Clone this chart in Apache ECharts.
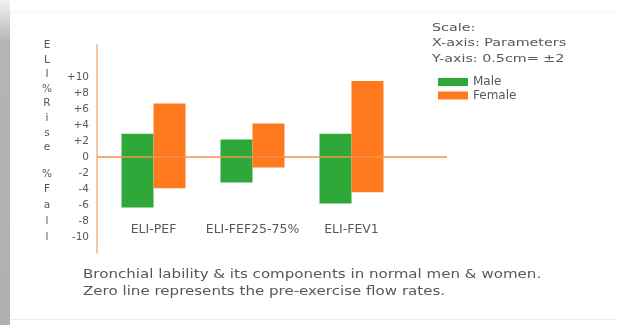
<!DOCTYPE html>
<html>
<head>
<meta charset="utf-8">
<script src="https://cdn.jsdelivr.net/npm/echarts@6/dist/echarts.min.js"></script>
<style>
  html, body { margin: 0; padding: 0; background: #ffffff; }
  #chart { width: 617px; height: 325px; }
</style>
</head>
<body>
<div id="chart"></div>
<script>
// Parameters measured (x-axis categories)
const categories = ['ELI-PEF', 'ELI-FEF25-75%', 'ELI-FEV1'];

// Each bar floats from its % fall (below zero) to its % rise (above zero)
const maleRise = [2.9, 2.2, 2.9];
const maleFall = [-6.3, -3.2, -5.8];
const femaleRise = [6.7, 4.2, 9.5];
const femaleFall = [-3.9, -1.3, -4.4];

// Y-axis tick labels (signed)
const yTickValues = [10, 8, 6, 4, 2, 0, -2, -4, -6, -8, -10];
const yTickLabels = ['+10', '+8', '+6', '+4', '+2', '0', '-2', '-4', '-6', '-8', '-10'];

const legendNames = ['Male', 'Female'];
const scaleNote = ['Scale:', 'X-axis: Parameters', 'Y-axis: 0.5cm= \u00b12'];
const caption = [
  'Bronchial lability & its components in normal men & women.',
  'Zero line represents the pre-exercise flow rates.'
];

const GREEN = '#2fa83a';
const ORANGE = '#ff7a1e';
const TEXT = '#585858';
const FONT = '"DejaVu Sans", Verdana, sans-serif';

const Y_MIN = -12, Y_MAX = 14;
const plotTop = 45, plotHeight = 208;

const chart = echarts.init(document.getElementById('chart'), null, { renderer: 'canvas' });

function tickLabel(v) {
  const i = yTickValues.indexOf(v);
  return i >= 0 ? yTickLabels[i] : '';
}

function barSeries(name, values, stack, color) {
  return {
    name: name,
    type: 'bar',
    xAxisIndex: 1,
    yAxisIndex: 1,
    stack: stack,
    barWidth: 32,
    barGap: '0%',
    itemStyle: { color: color },
    emphasis: { disabled: true },
    data: values
  };
}

chart.setOption({
  animation: false,
  backgroundColor: '#ffffff',
  textStyle: { fontFamily: FONT },
  grid: [
    // axes frame: y axis with tick labels and the zero line
    { left: 97, width: 350, top: plotTop, height: plotHeight },
    // bars
    { left: 104, width: 297, top: plotTop, height: plotHeight }
  ],
  xAxis: [
    { gridIndex: 0, type: 'value', min: 0, max: 1, show: false },
    {
      gridIndex: 1, type: 'category', data: categories,
      offset: -30,
      axisLine: { show: false }, axisTick: { show: false }, splitLine: { show: false },
      axisLabel: { color: TEXT, fontSize: 12.5, fontFamily: FONT, margin: 0, interval: 0 }
    }
  ],
  yAxis: [
    {
      gridIndex: 0, type: 'value', min: Y_MIN, max: Y_MAX, interval: 2,
      axisLine: { show: true, lineStyle: { color: '#f8c6a0', width: 2 } },
      axisTick: { show: false }, splitLine: { show: false },
      axisLabel: {
        color: TEXT, fontSize: 10.5, fontFamily: FONT, margin: 8,
        formatter: tickLabel
      }
    },
    {
      gridIndex: 1, type: 'value', min: Y_MIN, max: Y_MAX, interval: 2, show: false
    }
  ],
  legend: {
    data: legendNames,
    orient: 'vertical',
    left: 433,
    top: 71,
    itemWidth: 30,
    itemHeight: 8,
    itemGap: 1.5,
    icon: 'rect',
    textStyle: { color: TEXT, fontSize: 12, fontFamily: FONT }
  },
  series: [
    {
      // zero line = pre-exercise flow rate
      name: 'zero',
      type: 'line',
      xAxisIndex: 0,
      yAxisIndex: 0,
      data: [],
      markLine: {
        symbol: 'none',
        label: { show: false },
        emphasis: { disabled: true },
        lineStyle: { color: '#f7914a', width: 1.5, type: 'solid', opacity: 1 },
        data: [{ yAxis: 0 }]
      }
    },
    barSeries('Male', maleRise, 'male', GREEN),
    barSeries('Male', maleFall, 'male', GREEN),
    barSeries('Female', femaleRise, 'female', ORANGE),
    barSeries('Female', femaleFall, 'female', ORANGE)
  ],
  graphic: [
    // grey page edge on the left
    {
      type: 'rect', left: 0, top: 0, z: -1,
      shape: { width: 10, height: 325 },
      style: {
        fill: new echarts.graphic.LinearGradient(0, 0, 0, 1, [
          { offset: 0, color: '#f2f2f2' },
          { offset: 0.13, color: '#b4b4b4' },
          { offset: 1, color: '#b0b0b0' }
        ])
      }
    },
    { type: 'rect', left: 10, top: 319, z: -1, shape: { width: 607, height: 1 }, style: { fill: '#ececec' } },
    { type: 'rect', left: 10, top: 12, z: -1, shape: { width: 607, height: 1 }, style: { fill: '#f4f4f4' } },
    // stacked vertical y-axis title
    {
      type: 'text', x: 47, y: 38,
      style: {
        text: 'E\nL\nI\n%\nR\ni\ns\ne', fill: TEXT, fontSize: 10.5,
        fontFamily: FONT, lineHeight: 14.6, align: 'center', verticalAlign: 'top'
      }
    },
    {
      type: 'text', x: 47, y: 166,
      style: {
        text: '%\nF\na\nl\nl', fill: TEXT, fontSize: 10.5,
        fontFamily: FONT, lineHeight: 15.8, align: 'center', verticalAlign: 'top'
      }
    },
    // scale note
    {
      type: 'text', x: 432, y: 20, scaleX: 1.3,
      style: {
        text: scaleNote.join('\n'), fill: TEXT, fontSize: 11,
        fontFamily: FONT, lineHeight: 15.5, verticalAlign: 'top'
      }
    },
    // caption
    {
      type: 'text', x: 83, y: 267, scaleX: 1.31,
      style: {
        text: caption.join('\n'), fill: TEXT, fontSize: 11.5,
        fontFamily: FONT, lineHeight: 17, verticalAlign: 'top'
      }
    }
  ]
});
</script>
</body>
</html>
